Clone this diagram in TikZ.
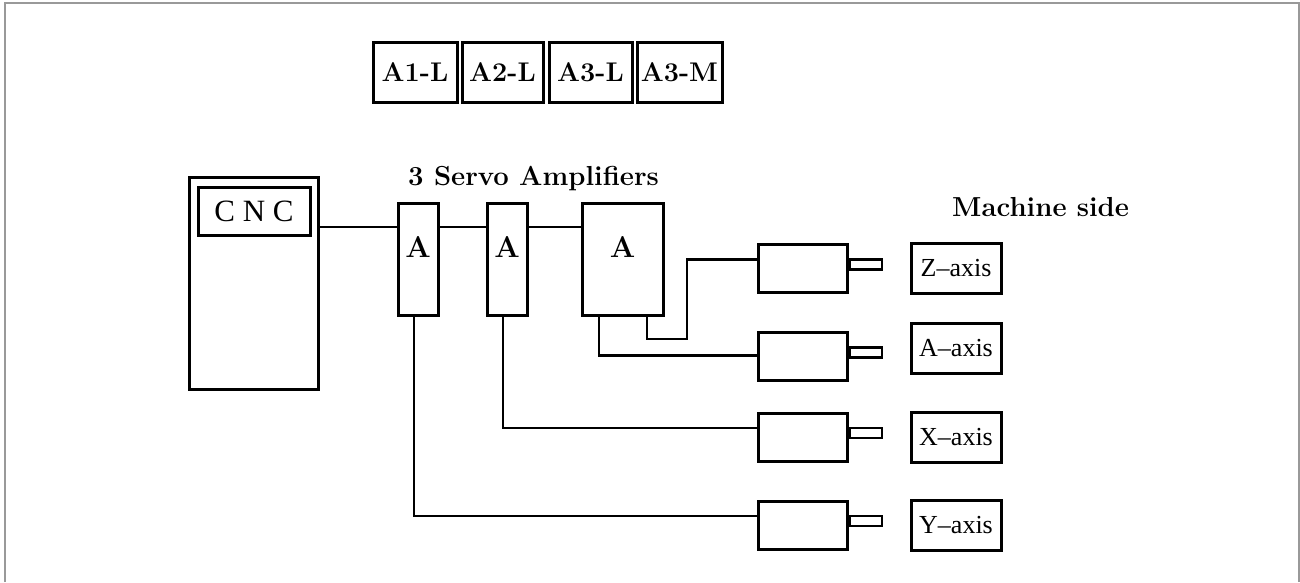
\documentclass[tikz,border=0pt]{standalone}
\usepackage{fontspec}
\newfontfamily\axisfont{Liberation Serif}
\usetikzlibrary{positioning}

\begin{document}
\begin{tikzpicture}[
    x=1pt, y=-1pt,
    box/.style={draw, line width=3pt, inner sep=0pt},
    tag/.style={box, minimum width=#1, minimum height=60pt,
                font=\fontsize{27}{27}\selectfont\bfseries},
    amp/.style={box, minimum width=#1, minimum height=112pt},
    ampname/.style={font=\fontsize{30}{30}\selectfont\bfseries, inner sep=0pt},
    motor/.style={box, minimum width=89pt, minimum height=48pt},
    shaft/.style={draw, line width=2.4pt, minimum width=32pt, minimum height=10pt,
                  inner sep=0pt, anchor=west},
    axisbox/.style={box, minimum width=90pt, minimum height=50pt,
                    font=\fontsize{26}{26}\selectfont\axisfont},
    title/.style={font=\fontsize{27.5}{27.5}\selectfont\bfseries, inner sep=0pt,
                  anchor=base west},
    wire/.style={line width=2.6pt},
]
\useasboundingbox (0,0) rectangle (1300,582);

% frame, open at the bottom
\draw[gray!80, line width=2.4pt] (5,582) -- (5,3) -- (1299,3) -- (1299,582);

% amplifier types
\node[tag=84pt] (a1l) at (415,72) {A1-L};
\node[tag=81pt] (a2l) at (502.5,72) {A2-L};
\node[tag=83pt] (a3l) at (590.5,72) {A3-L};
\node[tag=85pt] (a3m) at (679.5,72) {A3-M};

% CNC
\node[box, minimum width=129pt, minimum height=212pt] (cnc) at (253.5,283) {};
\node[box, minimum width=112pt, minimum height=48pt,
      font=\fontsize{31}{31}\selectfont\axisfont] (cncname) at (254,211) {C N C};

% servo amplifiers
\node[title] (servotitle) at (408,185) {3 Servo Amplifiers};
\node[amp=40pt] (amp1) at (418,259) {};
\node[amp=40pt] (amp2) at (507,259) {};
\node[amp=81pt] (amp3) at (622.5,259) {};
\node[ampname] (amp1name) at ([yshift=-45pt]amp1.north) {A};
\node[ampname] (amp2name) at ([yshift=-45pt]amp2.north) {A};
\node[ampname] (amp3name) at ([yshift=-45pt]amp3.north) {A};

\coordinate (bus) at (0,227);
\draw[wire] (cnc.east |- bus) -- (amp1.west |- bus);
\draw[wire] (amp1.east |- bus) -- (amp2.west |- bus);
\draw[wire] (amp2.east |- bus) -- (amp3.west |- bus);

% motors
\node[motor] (mz) at (802.5,268.5) {};
\node[motor] (ma) at (802.5,356.5) {};
\node[motor] (mx) at (802.5,437) {};
\node[motor] (my) at (802.5,525) {};
\foreach \m in {mz, ma, mx, my}
    \node[shaft] (\m shaft) at ([yshift=4pt]\m.east) {};

% machine side
\node[title] (machinetitle) at (952,216) {Machine side};
\node[axisbox] (az) at (956,268) {Z–axis};
\node[axisbox] (aa) at (956,348.5) {A–axis};
\node[axisbox] (ax) at (956,437) {X–axis};
\node[axisbox] (ay) at (956,525.5) {Y–axis};

% cables
\coordinate (zbend) at (687,339);
\draw[wire] ([xshift=24.5pt]amp3.south) |- (zbend) |- ([yshift=9pt]mz.west);
\draw[wire] ([xshift=-23.5pt]amp3.south) |- ([yshift=1pt]ma.west);
\draw[wire] ([xshift=-4pt]amp2.south) |- ([yshift=9pt]mx.west);
\draw[wire] ([xshift=-4pt]amp1.south) |- ([yshift=9pt]my.west);
\end{tikzpicture}
\end{document}
